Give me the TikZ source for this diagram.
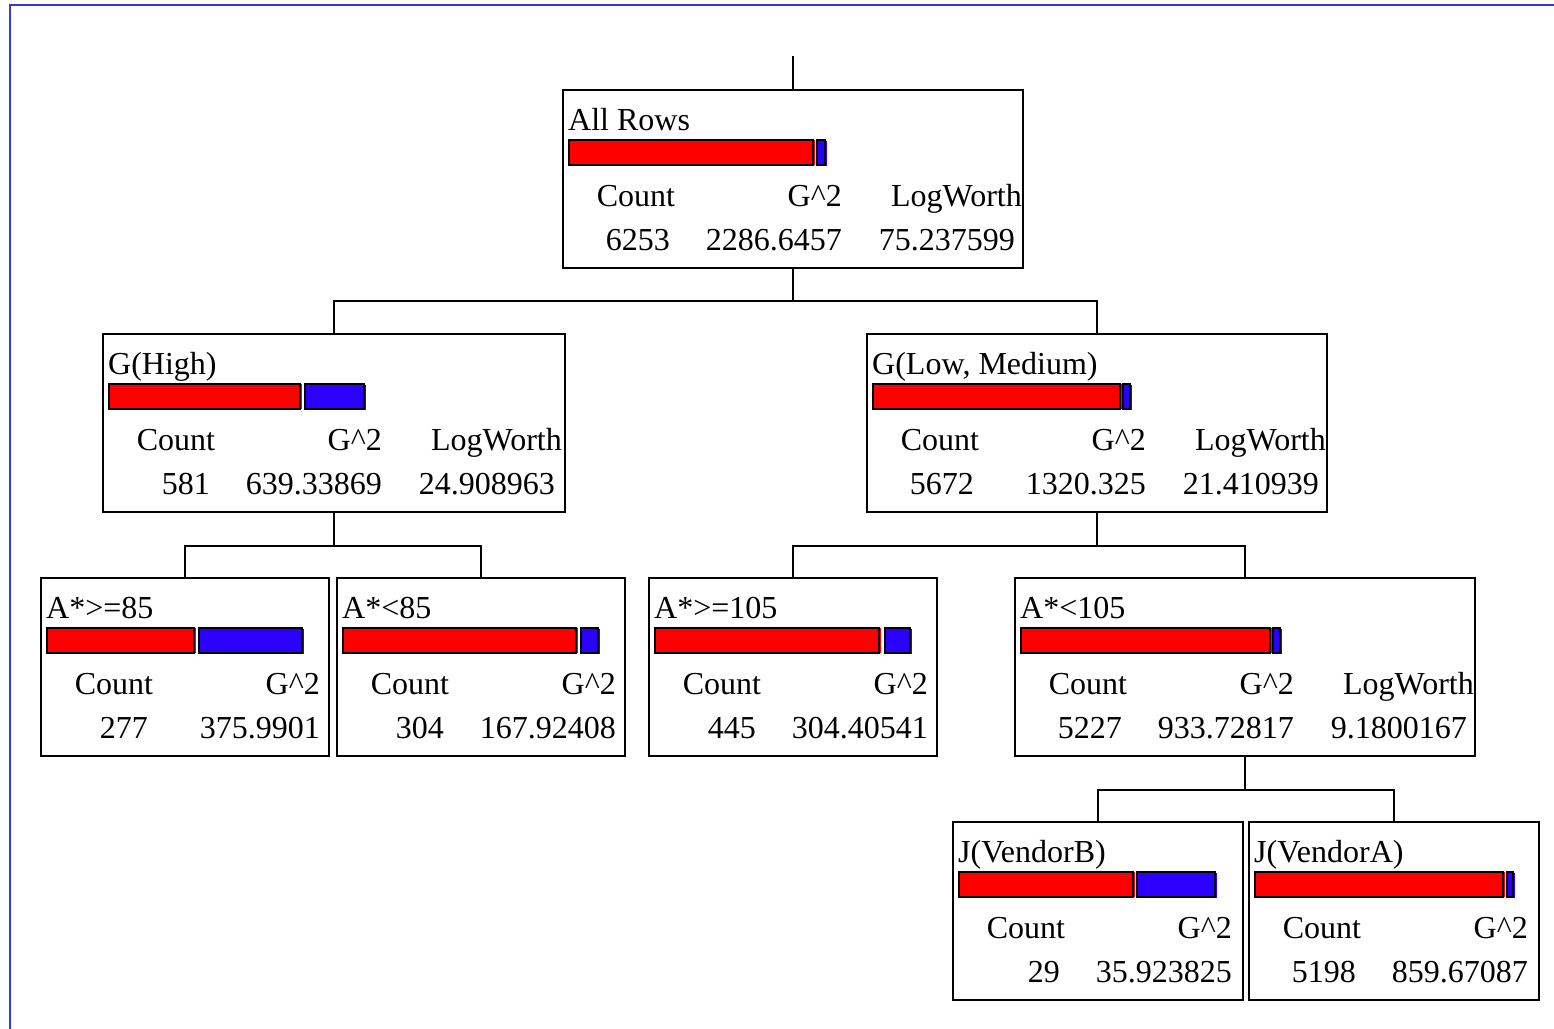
\documentclass[tikz,border=0pt]{standalone}
\usepackage{fontspec}
\setmainfont{Liberation Serif}
\usetikzlibrary{calc}
\definecolor{framecol}{RGB}{58,58,216}
\definecolor{barblue}{RGB}{43,0,255}
\definecolor{barred}{RGB}{255,0,0}
\tikzset{
  tbox/.style={draw=black, line width=1.8pt, minimum height=178pt, anchor=north west, inner sep=0pt, fill=none},
  txt/.style={inner sep=0pt, font=\fontsize{32}{38}\selectfont},
  conn/.style={draw=black, line width=1.8pt},
  barr/.style={fill=barred, draw=black, line width=1.4pt},
  barb/.style={fill=barblue, draw=black, line width=1.4pt},
}
\newcommand\tbox[5]{%
  \node[tbox, minimum width=#4pt] (#1) at (#2,#3) {};
  \node[txt, anchor=base west] (#1-l) at ($(#1.north west)+(6,41)$) {#5};
  \node[txt, anchor=base] (#1-hc) at ($(#1.north west)+(74,117)$) {Count};
  \node[txt, anchor=base east] (#1-hg) at ($(#1.north west)+(280,117)$) {G\textasciicircum 2};
}
\newcommand\tvals[3]{%
  \node[txt, anchor=base east] (#1-vc) at ($(#1.north west)+(108,161)$) {#2};
  \node[txt, anchor=base east] (#1-vg) at ($(#1.north west)+(280,161)$) {#3};
}
\newcommand\tlog[2]{%
  \node[txt, anchor=base east] (#1-hl) at ($(#1.north west)+(460,117)$) {LogWorth};
  \node[txt, anchor=base east] (#1-vl) at ($(#1.north west)+(453,161)$) {#2};
}
\newcommand\tbar[4]{%
  \fill[barred] ($(#1.north west)+(#2-1,51)$) rectangle ($(#1.north west)+(#2+2,76)$);
  \path[barr] ($(#1.north west)+(7,51)$) rectangle ($(#1.north west)+(#2,76)$);
  \fill[barblue] ($(#1.north west)+(#3+1,52)$) rectangle ($(#1.north west)+(#4+2,77)$);
  \path[barb] ($(#1.north west)+(#3,51)$) rectangle ($(#1.north west)+(#4,76)$);
}
\begin{document}
\begin{tikzpicture}[x=1pt,y=-1pt]
\useasboundingbox (0,0) rectangle (1554,1028);
\fill[white] (0,0) rectangle (1554,1028);
\draw[framecol, line width=2pt] (10,1032) -- (10,5) -- (1558,5);

% boxes
\tbox{root}{562}{89}{460}{All Rows}
\tvals{root}{6253}{2286.6457}
\tlog{root}{75.237599}
\tbar{root}{251}{255}{263}

\tbox{gh}{102}{333}{462}{G(High)}
\tvals{gh}{581}{639.33869}
\tlog{gh}{24.908963}
\tbar{gh}{198}{203}{262}

\tbox{gl}{866}{333}{460}{G(Low, Medium)}
\tvals{gl}{5672}{1320.325}
\tlog{gl}{21.410939}
\tbar{gl}{254}{257}{264}

\tbox{a85ge}{40}{577}{288}{A*>=85}
\tvals{a85ge}{277}{375.9901}
\tbar{a85ge}{154}{159}{262}

\tbox{a85lt}{336}{577}{288}{A*<85}
\tvals{a85lt}{304}{167.92408}
\tbar{a85lt}{240}{245}{262}

\tbox{a105ge}{648}{577}{288}{A*>=105}
\tvals{a105ge}{445}{304.40541}
\tbar{a105ge}{231}{237}{262}

\tbox{a105lt}{1014}{577}{460}{A*<105}
\tvals{a105lt}{5227}{933.72817}
\tlog{a105lt}{9.1800167}
\tbar{a105lt}{256}{259}{266}

\tbox{jb}{952}{821}{290}{J(VendorB)}
\tvals{jb}{29}{35.923825}
\tbar{jb}{181}{185}{263}

\tbox{ja}{1248}{821}{290}{J(VendorA)}
\tvals{ja}{5198}{859.67087}
\tbar{ja}{255}{259}{265}

% connectors
\coordinate (top) at ($(root.north)+(0,-33)$);
\draw[conn] (top) -- (root.north);

\coordinate (j1) at ($(root.south)+(0,32)$);
\draw[conn] (root.south) -- (j1);
\draw[conn] (gh.north) |- (j1) -| (gl.north);

\coordinate (j2) at ($(gh.south)+(0,33)$);
\draw[conn] (gh.south) -- (j2);
\draw[conn] (a85ge.north) |- (j2) -| (a85lt.north);

\coordinate (j3) at ($(gl.south)+(0,33)$);
\draw[conn] (gl.south) -- (j3);
\draw[conn] (a105ge.north) |- (j3) -| (a105lt.north);

\coordinate (j4) at ($(a105lt.south)+(0,33)$);
\draw[conn] (a105lt.south) -- (j4);
\draw[conn] (jb.north) |- (j4) -| (ja.north);
\end{tikzpicture}
\end{document}
